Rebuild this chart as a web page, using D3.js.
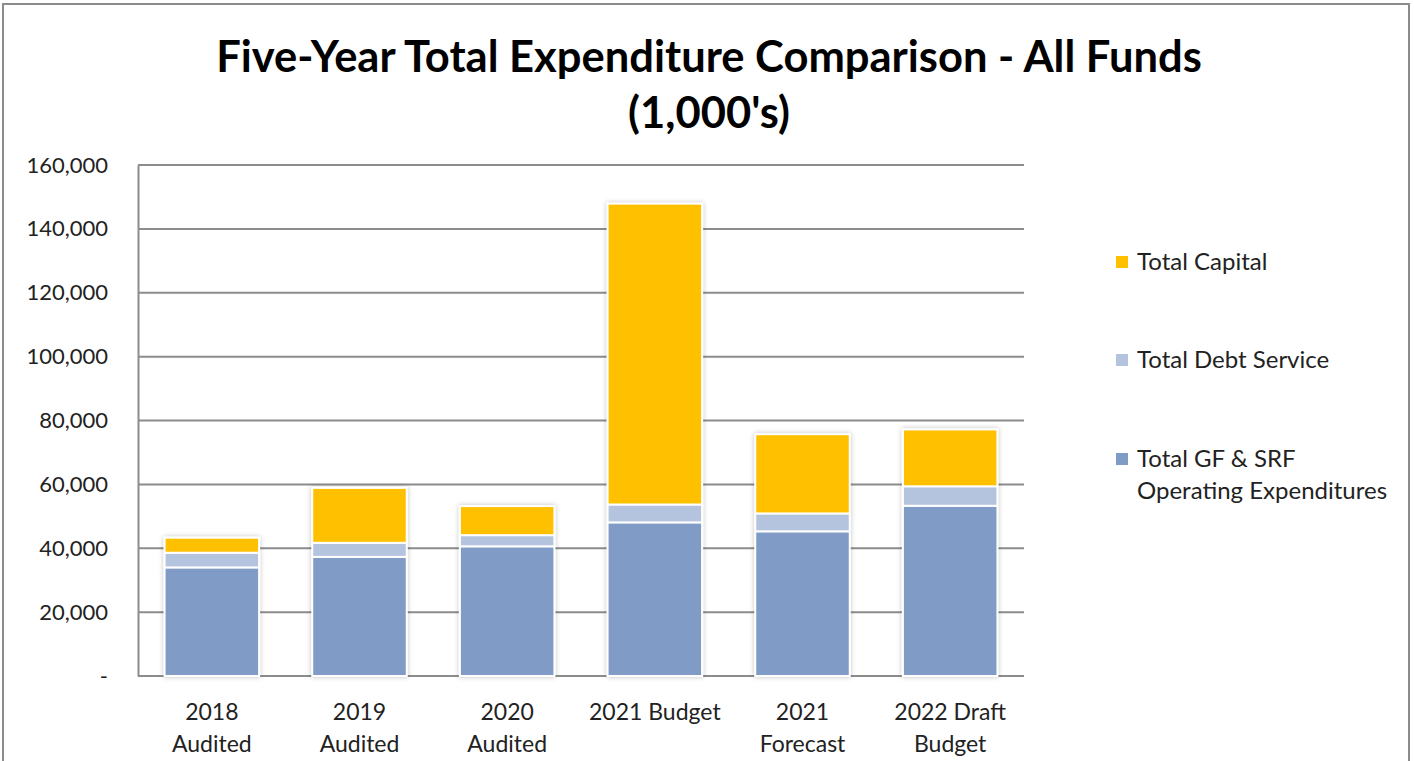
<!DOCTYPE html>
<html>
<head>
<meta charset="utf-8">
<script src="https://cdn.jsdelivr.net/npm/d3@7"></script>
<style>
  body { margin: 0; background: #fff; }
  svg { display: block; font-family: Lato, "Open Sans", sans-serif; }
</style>
</head>
<body>
<svg id="chart" width="1414" height="761"></svg>
<script>
const categories = [["2018", "Audited"], ["2019", "Audited"], ["2020", "Audited"], ["2021 Budget"], ["2021", "Forecast"], ["2022 Draft", "Budget"]]
const opex = [34000, 37300, 40600, 48100, 45300, 53300]
const debt = [4600, 4400, 3500, 5600, 5600, 6100]
const capital = [4700, 17200, 9100, 94200, 24800, 17800]
const yTicks = [0, 20000, 40000, 60000, 80000, 100000, 120000, 140000, 160000]
const seriesNames = ["Total GF & SRF Operating Expenditures", "Total Debt Service", "Total Capital"]
const colors = ["#7f9bc6", "#b4c3de", "#ffc000"]

const svg = d3.select("#chart")
const margin = { left: 138, right: 390, top: 165, bottom: 85 }
const width = 1414, height = 761

// outer frame
svg.append("rect")
    .attr("x", 3).attr("y", 4)
    .attr("width", 1406).attr("height", 770)
    .attr("fill", "none").attr("stroke", "#8c8c8c").attr("stroke-width", 2)

const defs = svg.append("defs")
defs.append("filter").attr("id", "shadow")
    .attr("x", "-10%").attr("y", "-10%").attr("width", "120%").attr("height", "120%")
    .append("feDropShadow")
    .attr("dx", 0).attr("dy", 0).attr("stdDeviation", 2.5)
    .attr("flood-color", "#000").attr("flood-opacity", 0.25)

const x = d3.scaleBand()
    .domain(d3.range(categories.length))
    .range([margin.left, width - margin.right])
    .paddingInner(0.36).paddingOuter(0.18)

const y = d3.scaleLinear()
    .domain([0, 160000])
    .range([height - margin.bottom, margin.top])

// gridlines
svg.append("g")
    .selectAll("line")
    .data(yTicks)
    .enter()
    .append("line")
    .attr("x1", margin.left).attr("x2", width - margin.right)
    .attr("y1", d => y(d)).attr("y2", d => y(d))
    .attr("stroke", "#8c8c8c").attr("stroke-width", 2)

// y axis
const yAxis = svg.append("g")
    .attr("transform", `translate(${margin.left},0)`)
    .call(d3.axisLeft(y).tickValues(yTicks).tickSize(0).tickPadding(30)
        .tickFormat(d => d === 0 ? "-" : d3.format(",")(d)))
yAxis.select(".domain").attr("stroke", "#8c8c8c").attr("stroke-width", 2)
yAxis.selectAll("text")
    .attr("font-size", 22).attr("fill", "#222")
    .attr("font-family", "Lato, sans-serif")

// stacked bars
const rows = categories.map((c, i) => ({ i, opex: opex[i], debt: debt[i], capital: capital[i] }))
const stack = d3.stack().keys(["opex", "debt", "capital"])(rows)

const bars = svg.append("g").attr("filter", "url(#shadow)")
bars.selectAll("g")
    .data(stack)
    .enter()
    .append("g")
    .attr("fill", (d, k) => colors[k])
    .selectAll("rect")
    .data(d => d)
    .enter()
    .append("rect")
    .attr("x", d => x(d.data.i))
    .attr("y", d => y(d[1]))
    .attr("width", x.bandwidth())
    .attr("height", d => y(d[0]) - y(d[1]))
    .attr("stroke", "#fff").attr("stroke-width", 2)

// x labels
const xl = svg.append("g")
    .selectAll("text")
    .data(categories)
    .enter()
    .append("text")
    .attr("x", (d, i) => x(i) + x.bandwidth() / 2)
    .attr("y", 720)
    .attr("text-anchor", "middle")
    .attr("font-size", 23).attr("fill", "#222")
xl.selectAll("tspan")
    .data(d => d)
    .enter()
    .append("tspan")
    .attr("x", function() { return this.parentNode.getAttribute("x") })
    .attr("dy", (d, j) => j === 0 ? 0 : 32)
    .text(d => d)

// title
svg.append("text")
    .attr("x", 709).attr("y", 72)
    .attr("text-anchor", "middle")
    .attr("font-size", 43.5).attr("font-weight", "bold").attr("fill", "#000")
    .text("Five-Year Total Expenditure Comparison - All Funds")
svg.append("text")
    .attr("x", 709).attr("y", 128)
    .attr("text-anchor", "middle")
    .attr("font-size", 43.5).attr("font-weight", "bold").attr("fill", "#000")
    .text("(1,000's)")

// legend
const legendItems = [
    { name: ["Total Capital"], color: colors[2], y: 262 },
    { name: ["Total Debt Service"], color: colors[1], y: 360 },
    { name: ["Total GF & SRF", "Operating Expenditures"], color: colors[0], y: 459 }
]
const lg = svg.append("g")
    .selectAll("g")
    .data(legendItems)
    .enter()
    .append("g")
lg.append("rect")
    .attr("x", 1116).attr("y", d => d.y - 6)
    .attr("width", 12).attr("height", 12)
    .attr("fill", d => d.color)
lg.append("text")
    .attr("x", 1137).attr("y", d => d.y + 8)
    .attr("font-size", 24).attr("fill", "#222")
    .selectAll("tspan")
    .data(d => d.name)
    .enter()
    .append("tspan")
    .attr("x", 1137)
    .attr("dy", (d, j) => j === 0 ? 0 : 32)
    .text(d => d)
</script>
</body>
</html>
